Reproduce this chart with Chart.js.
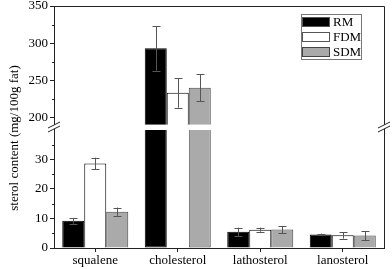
<!DOCTYPE html>
<html>
<head>
<meta charset="utf-8">
<script src="https://cdn.jsdelivr.net/npm/chart.js@4"></script>
<style>
  html, body { margin: 0; padding: 0; background: #fff; }
  #wrap { width: 392px; height: 269px; }
</style>
</head>
<body>
<div id="wrap"><canvas id="sterolChart" width="392" height="269"></canvas></div>
<script>
// data
const categories = ['squalene', 'cholesterol', 'lathosterol', 'lanosterol'];
const seriesNames = ['RM', 'FDM', 'SDM'];
const rmValues = [9.2, 293, 5.5, 4.6];
const rmErrors = [1.0, 30, 1.4, 0.3];
const fdmValues = [28.6, 233, 6.2, 4.3];
const fdmErrors = [2.0, 20, 0.7, 1.1];
const sdmValues = [12.3, 240, 6.3, 4.2];
const sdmErrors = [1.4, 18, 1.2, 1.5];
const lowerTicks = [0, 10, 20, 30];
const upperTicks = [200, 250, 300, 350];

// broken axis ranges
const lowMax = 41, lowClip = 40;
const highMin = 187, highFloor = 190, highMax = 350;

const fills = ['#000000', '#ffffff', '#aaaaaa'];
const borders = ['#000000', '#000000', '#444444'];
const allValues = [rmValues, fdmValues, sdmValues];
const allErrors = [rmErrors, fdmErrors, sdmErrors];
const serif = 'Liberation Serif';

const datasets = [];
seriesNames.forEach((name, s) => {
  datasets.push({
    label: name,
    data: allValues[s].map(v => Math.min(v, lowClip)),
    yAxisID: 'yLow',
    stack: name,
    backgroundColor: fills[s],
    borderColor: borders[s],
    borderWidth: 1,
    // cut-off bars below the break: no top edge (white bar: no edges at all)
    borderSkipped: ctx => allValues[s][ctx.dataIndex] > lowClip ? (s === 1 ? true : 'top') : 'start',
    _series: s, _part: 'low'
  });
});
seriesNames.forEach((name, s) => {
  datasets.push({
    label: name,
    data: allValues[s].map(v => v > highFloor ? [highFloor, v] : null),
    yAxisID: 'yHigh',
    stack: name,
    backgroundColor: fills[s],
    borderColor: borders[s],
    borderWidth: 1,
    borderSkipped: 'start',
    _series: s, _part: 'high'
  });
});

// error bars, minor ticks, frame, break marks, legend, axis title
const extras = {
  id: 'extras',
  afterDatasetsDraw(chart) {
    const ctx = chart.ctx;
    ctx.save();
    ctx.strokeStyle = '#555';
    ctx.lineWidth = 1;
    chart.data.datasets.forEach((ds, di) => {
      const meta = chart.getDatasetMeta(di);
      const s = ds._series;
      meta.data.forEach((bar, i) => {
        const v = allValues[s][i], e = allErrors[s][i];
        const high = v > lowClip;
        if ((ds._part === 'high') !== high) return;
        const sc = chart.scales[high ? 'yHigh' : 'yLow'];
        const x = Math.round(bar.x) + 0.5;
        const y1 = sc.getPixelForValue(v + e), y2 = sc.getPixelForValue(v - e);
        ctx.beginPath();
        ctx.moveTo(x, y1); ctx.lineTo(x, y2);
        ctx.moveTo(x - 4, Math.round(y1) + 0.5); ctx.lineTo(x + 4, Math.round(y1) + 0.5);
        ctx.moveTo(x - 4, Math.round(y2) + 0.5); ctx.lineTo(x + 4, Math.round(y2) + 0.5);
        ctx.stroke();
      });
    });
    ctx.restore();
  },
  afterDraw(chart) {
    const ctx = chart.ctx;
    const a = chart.chartArea;
    const lo = chart.scales.yLow, hi = chart.scales.yHigh;
    ctx.save();
    ctx.strokeStyle = '#222';
    ctx.lineWidth = 1;
    // frame
    ctx.beginPath();
    ctx.moveTo(a.left, a.top + 0.5); ctx.lineTo(a.right + 0.5, a.top + 0.5);
    ctx.lineTo(a.right + 0.5, a.bottom);
    ctx.stroke();
    // minor ticks
    ctx.beginPath();
    const minor = (ticks, sc) => {
      const step = ticks[1] - ticks[0];
      ticks.forEach(t => {
        const y = Math.round(sc.getPixelForValue(t + step / 2)) + 0.5;
        if (y < sc.top || y > sc.bottom) return;
        ctx.moveTo(a.left - 2, y); ctx.lineTo(a.left, y);
      });
    };
    minor(lowerTicks, lo);
    minor(upperTicks, hi);
    ctx.stroke();
    // break marks
    const yb = (lo.top + hi.bottom) / 2;
    [a.left, a.right].forEach(xa => {
      ctx.fillStyle = '#fff';
      ctx.beginPath();
      ctx.moveTo(xa - 6, yb + 1); ctx.lineTo(xa + 6, yb - 5);
      ctx.lineTo(xa + 6, yb - 1); ctx.lineTo(xa - 6, yb + 5);
      ctx.closePath(); ctx.fill();
      ctx.beginPath();
      ctx.moveTo(xa - 6, yb + 1); ctx.lineTo(xa + 6, yb - 5);
      ctx.moveTo(xa - 6, yb + 5); ctx.lineTo(xa + 6, yb - 1);
      ctx.stroke();
    });
    // legend
    const lx = 301, ly = 14;
    ctx.strokeStyle = '#777';
    ctx.strokeRect(lx + 0.5, ly + 0.5, 60, 45);
    ctx.font = '13px "' + serif + '"';
    ctx.textBaseline = 'middle';
    ctx.textAlign = 'left';
    seriesNames.forEach((name, s) => {
      const cy = ly + 8 + s * 15;
      ctx.fillStyle = fills[s];
      ctx.fillRect(lx + 1.5, cy - 4.5, 27, 9);
      ctx.strokeStyle = borders[s] === '#000000' ? '#555' : borders[s];
      ctx.strokeRect(lx + 1.5, cy - 4.5, 27, 9);
      ctx.fillStyle = '#000';
      ctx.fillText(name, lx + 32, cy + 1);
    });
    // y axis title
    ctx.translate(15, 138);
    ctx.rotate(-Math.PI / 2);
    ctx.textAlign = 'center';
    ctx.fillText('sterol content (mg/100g fat)', 0, 0);
    ctx.restore();
  }
};

const yCommon = (ticks) => ({
  type: 'linear',
  position: 'left',
  stack: 'y',
  stackWeight: 1,
  grid: { drawOnChartArea: false, tickLength: 4, color: '#222' },
  border: { color: '#222' },
  ticks: { font: { family: serif, size: 13 }, color: '#000', padding: 2 },
  afterBuildTicks: sc => { sc.ticks = ticks.map(v => ({ value: v })); },
  afterFit: sc => { sc.width = 54; sc.paddingTop = 0; sc.paddingBottom = 0; }
});

new Chart(document.getElementById('sterolChart'), {
  type: 'bar',
  data: { labels: categories, datasets: datasets },
  options: {
    responsive: false,
    animation: false,
    layout: { padding: { top: 6, right: 8, left: 0, bottom: 0 } },
    datasets: { bar: { categoryPercentage: 0.8, barPercentage: 1.0 } },
    plugins: { legend: { display: false }, tooltip: { enabled: false } },
    scales: {
      x: {
        type: 'category',
        offset: true,
        grid: { offset: false, drawOnChartArea: false, tickLength: 4, color: '#222' },
        border: { color: '#222' },
        ticks: { font: { family: serif, size: 13 }, color: '#000', padding: 1 },
        afterFit: sc => { sc.height = 21; sc.paddingLeft = 0; sc.paddingRight = 0; }
      },
      yLow: Object.assign(yCommon(lowerTicks), { min: 0, max: lowMax }),
      yHigh: Object.assign(yCommon(upperTicks), { min: highMin, max: highMax })
    }
  },
  plugins: [extras]
});
</script>
</body>
</html>
